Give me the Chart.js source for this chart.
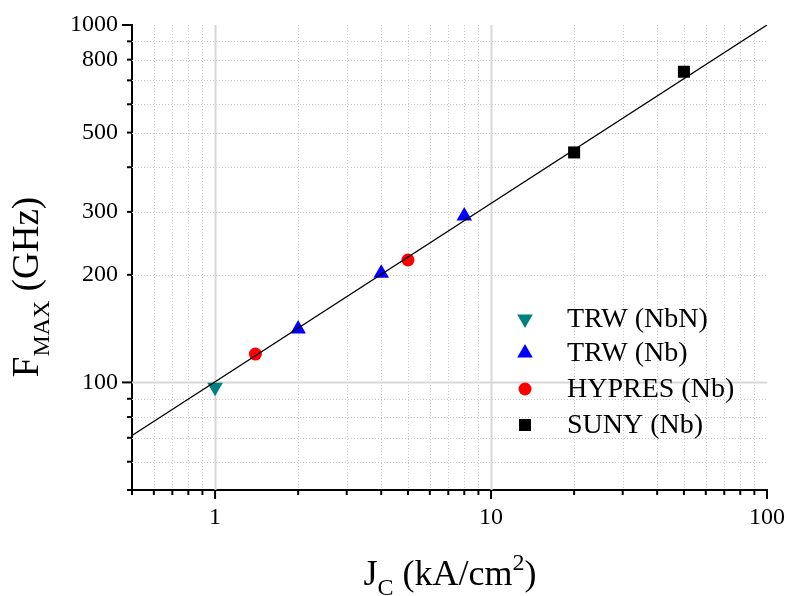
<!DOCTYPE html>
<html>
<head>
<meta charset="utf-8">
<script src="https://cdn.jsdelivr.net/npm/chart.js@4.4.0/dist/chart.umd.min.js"></script>
<style>
html, body { margin: 0; padding: 0; background: #fff; }
</style>
</head>
<body>
<canvas id="chart" width="787" height="596"></canvas>
<script>
// data (Jc in kA/cm2, Fmax in GHz)
const trwNbnJc = [1];
const trwNbnF = [97];
const trwNbJc = [2, 4, 8];
const trwNbF = [141, 202, 292];
const hypresJc = [1.4, 5];
const hypresF = [120, 220];
const sunyJc = [20, 50];
const sunyF = [440, 740];
const fitJc = [0.5, 100];
const fitF = [71, 1000];

const seriesNames = ['TRW (NbN)', 'TRW (Nb)', 'HYPRES (Nb)', 'SUNY (Nb)'];

// axis ticks
const xTicks = [0.5, 0.6, 0.7, 0.8, 0.9, 1, 2, 3, 4, 5, 6, 7, 8, 9, 10, 20, 30, 40, 50, 60, 70, 80, 90, 100];
const xLabels = [1, 10, 100];
const xMajor = [1, 10, 100];
const yTicks = [50, 60, 70, 80, 90, 100, 200, 300, 400, 500, 600, 700, 800, 900, 1000];
const yLabels = [100, 200, 300, 500, 800, 1000];
const yMajor = [100, 1000];
const xSolidGrid = [1, 10];
const ySolidGrid = [100];

const SERIF = '"Liberation Serif", "Times New Roman", serif';

function pts(xs, ys) {
  return xs.map((x, i) => ({ x: x, y: ys[i] }));
}

// grid lines + tick marks drawn from the scales
const gridPlugin = {
  id: 'gridPlugin',
  beforeDatasetsDraw(chart) {
    const ctx = chart.ctx;
    const xs = chart.scales.x, ys = chart.scales.y;
    const a = chart.chartArea;
    ctx.save();
    xTicks.forEach(v => {
      if (v === xs.min || v === xs.max) return;
      const px = Math.round(xs.getPixelForValue(v)) + 0.5;
      ctx.beginPath();
      if (xSolidGrid.includes(v)) {
        ctx.setLineDash([]);
        ctx.strokeStyle = '#d8d8d8';
        ctx.lineWidth = 2;
      } else {
        ctx.setLineDash([1, 2]);
        ctx.strokeStyle = '#c8c8c8';
        ctx.lineWidth = 1;
      }
      ctx.moveTo(px, a.top);
      ctx.lineTo(px, a.bottom);
      ctx.stroke();
    });
    yTicks.forEach(v => {
      if (v === ys.min || v === ys.max) return;
      const py = Math.round(ys.getPixelForValue(v)) + 0.5;
      ctx.beginPath();
      if (ySolidGrid.includes(v)) {
        ctx.setLineDash([]);
        ctx.strokeStyle = '#d8d8d8';
        ctx.lineWidth = 2;
      } else {
        ctx.setLineDash([1, 2]);
        ctx.strokeStyle = '#c8c8c8';
        ctx.lineWidth = 1;
      }
      ctx.moveTo(a.left, py);
      ctx.lineTo(a.right, py);
      ctx.stroke();
    });
    ctx.restore();
  },
  afterDraw(chart) {
    const ctx = chart.ctx;
    const xs = chart.scales.x, ys = chart.scales.y;
    const a = chart.chartArea;
    ctx.save();
    ctx.strokeStyle = '#000';
    ctx.lineWidth = 2;
    xTicks.forEach(v => {
      const px = xs.getPixelForValue(v);
      const len = xMajor.includes(v) ? 9 : 5;
      ctx.beginPath();
      ctx.moveTo(px, a.bottom);
      ctx.lineTo(px, a.bottom + len);
      ctx.stroke();
    });
    yTicks.forEach(v => {
      const py = ys.getPixelForValue(v);
      const len = yMajor.includes(v) ? 10 : 5;
      ctx.beginPath();
      ctx.moveTo(a.left, py);
      ctx.lineTo(a.left - len, py);
      ctx.stroke();
    });
    ctx.restore();
  }
};

// legend inside the plot
const legendPlugin = {
  id: 'legendPlugin',
  afterDraw(chart) {
    const ctx = chart.ctx;
    ctx.save();
    ctx.font = '28px ' + SERIF;
    ctx.fillStyle = '#000';
    ctx.textBaseline = 'middle';
    ctx.textAlign = 'left';
    const rows = [319, 353, 389, 425];
    seriesNames.forEach((name, i) => {
      const ds = chart.data.datasets[i + 1];
      ctx.fillStyle = ds.backgroundColor;
      ctx.strokeStyle = ds.borderColor;
      Chart.helpers.drawPoint(ctx, {
        pointStyle: ds.pointStyle,
        rotation: ds.rotation || 0,
        radius: ds.pointRadius,
        borderWidth: 0
      }, 525, rows[i]);
      ctx.fillStyle = '#000';
      ctx.fillText(name, 567, rows[i] + 1);
    });
    ctx.restore();
  }
};

// axis titles with sub/superscripts
function drawParts(ctx, parts, cx, baseY) {
  let total = 0;
  parts.forEach(p => {
    ctx.font = p.size + 'px ' + SERIF;
    p.w = ctx.measureText(p.t).width;
    total += p.w;
  });
  let x = cx - total / 2;
  parts.forEach(p => {
    ctx.font = p.size + 'px ' + SERIF;
    ctx.fillText(p.t, x, baseY + (p.dy || 0));
    x += p.w;
  });
}

const titlePlugin = {
  id: 'titlePlugin',
  afterDraw(chart) {
    const ctx = chart.ctx;
    ctx.save();
    ctx.fillStyle = '#000';
    ctx.textBaseline = 'alphabetic';
    ctx.textAlign = 'left';
    drawParts(ctx, [
      { t: 'J', size: 36 },
      { t: 'C', size: 24, dy: 10 },
      { t: ' (kA/cm', size: 36 },
      { t: '2', size: 24, dy: -15 },
      { t: ')', size: 36 }
    ], 450, 585);
    ctx.translate(38, 287);
    ctx.rotate(-Math.PI / 2);
    drawParts(ctx, [
      { t: 'F', size: 37 },
      { t: 'MAX', size: 24, dy: 11 },
      { t: ' (GHz)', size: 37 }
    ], 0, 0);
    ctx.restore();
  }
};

new Chart(document.getElementById('chart'), {
  type: 'scatter',
  data: {
    datasets: [
      {
        type: 'line',
        label: 'fit',
        data: pts(fitJc, fitF),
        borderColor: '#000',
        borderWidth: 1.3,
        pointRadius: 0,
        fill: false,
        order: 0
      },
      {
        label: seriesNames[0],
        data: pts(trwNbnJc, trwNbnF),
        pointStyle: 'triangle',
        rotation: 180,
        pointRadius: 9,
        backgroundColor: '#008080',
        borderColor: '#008080',
        borderWidth: 0,
        order: 1
      },
      {
        label: seriesNames[1],
        data: pts(trwNbJc, trwNbF),
        pointStyle: 'triangle',
        pointRadius: 9,
        backgroundColor: '#0000ff',
        borderColor: '#0000ff',
        borderWidth: 0,
        order: 1
      },
      {
        label: seriesNames[2],
        data: pts(hypresJc, hypresF),
        pointStyle: 'circle',
        pointRadius: 6.5,
        backgroundColor: '#ff0000',
        borderColor: '#ff0000',
        borderWidth: 0,
        order: 1
      },
      {
        label: seriesNames[3],
        data: pts(sunyJc, sunyF),
        pointStyle: 'rect',
        pointRadius: 8.5,
        backgroundColor: '#000',
        borderColor: '#000',
        borderWidth: 0,
        order: 1
      }
    ]
  },
  options: {
    responsive: false,
    animation: false,
    devicePixelRatio: 1,
    layout: { padding: { top: 25, right: 20, left: 0, bottom: 0 } },
    plugins: {
      legend: { display: false },
      tooltip: { enabled: false }
    },
    scales: {
      x: {
        type: 'logarithmic',
        min: 0.5,
        max: 100,
        afterBuildTicks: s => { s.ticks = xTicks.map(v => ({ value: v })); },
        afterFit: s => { s.height = 106; s.paddingLeft = 0; s.paddingRight = 0; },
        grid: { display: false, drawTicks: true, tickLength: 10 },
        border: { display: true, color: '#000', width: 2 },
        ticks: {
          autoSkip: false,
          maxRotation: 0,
          padding: 3,
          color: '#000',
          font: { family: SERIF, size: 24 },
          callback: v => xLabels.includes(v) ? String(v) : ''
        }
      },
      y: {
        type: 'logarithmic',
        min: 50,
        max: 1000,
        afterBuildTicks: s => { s.ticks = yTicks.map(v => ({ value: v })); },
        afterFit: s => { s.width = 132; s.paddingTop = 0; s.paddingBottom = 0; },
        grid: { display: false, drawTicks: true, tickLength: 10 },
        border: { display: true, color: '#000', width: 2 },
        ticks: {
          autoSkip: false,
          padding: 4,
          color: '#000',
          font: { family: SERIF, size: 24 },
          callback: v => yLabels.includes(v) ? String(v) : ''
        }
      }
    }
  },
  plugins: [gridPlugin, legendPlugin, titlePlugin]
});
</script>
</body>
</html>
